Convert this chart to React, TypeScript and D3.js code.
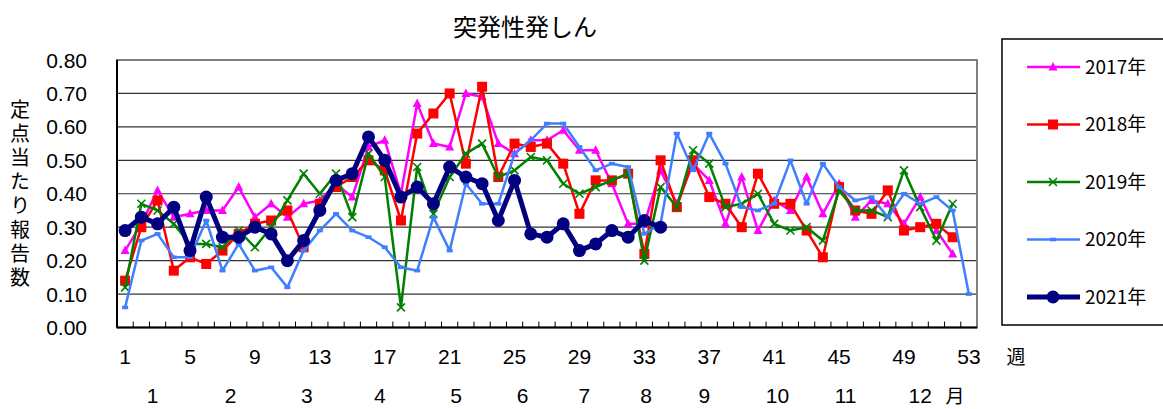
import * as d3 from 'd3';
import { useRef, useEffect } from 'react';

const weeks = d3.range(1, 54);
const weekTicks = [1, 5, 9, 13, 17, 21, 25, 29, 33, 37, 41, 45, 49, 53];
const monthLabels = ['1', '2', '3', '4', '5', '6', '7', '8', '9', '10', '11', '12'];
const monthPos = [2.7, 7.5, 12.2, 16.7, 21.4, 25.5, 29.3, 33.1, 36.7, 41.2, 45.4, 50.0];
const yTicks = [0, 0.1, 0.2, 0.3, 0.4, 0.5, 0.6, 0.7, 0.8];

const v2017 = [0.23, 0.31, 0.41, 0.33, 0.34, 0.35, 0.35, 0.42, 0.33, 0.37, 0.33, 0.37, 0.38, 0.43, 0.39, 0.54, 0.56, 0.40, 0.67, 0.55, 0.54, 0.70, 0.69, 0.55, 0.52, 0.56, 0.56, 0.59, 0.53, 0.53, 0.43, 0.31, 0.31, 0.47, 0.37, 0.49, 0.44, 0.31, 0.45, 0.29, 0.38, 0.35, 0.45, 0.34, 0.43, 0.33, 0.38, 0.37, 0.31, 0.39, 0.29, 0.22];
const v2018 = [0.14, 0.30, 0.38, 0.17, 0.21, 0.19, 0.23, 0.28, 0.31, 0.32, 0.35, 0.24, 0.37, 0.42, 0.45, 0.50, 0.47, 0.32, 0.58, 0.64, 0.70, 0.49, 0.72, 0.45, 0.55, 0.54, 0.55, 0.49, 0.34, 0.44, 0.44, 0.46, 0.22, 0.50, 0.36, 0.50, 0.39, 0.37, 0.30, 0.46, 0.37, 0.37, 0.29, 0.21, 0.42, 0.35, 0.34, 0.41, 0.29, 0.30, 0.31, 0.27];
const v2019 = [0.12, 0.37, 0.35, 0.31, 0.25, 0.25, 0.24, 0.29, 0.24, 0.30, 0.38, 0.46, 0.40, 0.46, 0.33, 0.52, 0.45, 0.06, 0.48, 0.34, 0.45, 0.52, 0.55, 0.45, 0.47, 0.51, 0.50, 0.43, 0.40, 0.42, 0.44, 0.46, 0.20, 0.42, 0.36, 0.53, 0.49, 0.36, 0.37, 0.40, 0.31, 0.29, 0.30, 0.26, 0.41, 0.35, 0.35, 0.33, 0.47, 0.36, 0.26, 0.37];
const v2020 = [0.06, 0.26, 0.28, 0.21, 0.21, 0.32, 0.17, 0.25, 0.17, 0.18, 0.12, 0.23, 0.29, 0.34, 0.29, 0.27, 0.24, 0.18, 0.17, 0.33, 0.23, 0.43, 0.37, 0.37, 0.52, 0.56, 0.61, 0.61, 0.54, 0.47, 0.49, 0.48, 0.28, 0.31, 0.58, 0.47, 0.58, 0.49, 0.36, 0.35, 0.37, 0.50, 0.37, 0.49, 0.42, 0.38, 0.39, 0.33, 0.40, 0.37, 0.39, 0.35, 0.10];
const v2021 = [0.29, 0.33, 0.31, 0.36, 0.23, 0.39, 0.27, 0.27, 0.30, 0.28, 0.20, 0.26, 0.35, 0.44, 0.46, 0.57, 0.50, 0.39, 0.42, 0.37, 0.48, 0.45, 0.43, 0.32, 0.44, 0.28, 0.27, 0.31, 0.23, 0.25, 0.29, 0.27, 0.32, 0.30];

const seriesNames = ['2017年', '2018年', '2019年', '2020年', '2021年'];
const seriesValues = [v2017, v2018, v2019, v2020, v2021];
const seriesColors = ['#FF00FF', '#FF0000', '#008000', '#3F7FFF', '#000080'];
const seriesMarkers = ['triangle', 'square', 'cross', 'dash', 'circle'];

const jp = '"Noto Sans CJK JP", sans-serif';
const num = '"Liberation Sans", Arial, sans-serif';
const narrow = '"Liberation Sans Narrow", "Liberation Sans", sans-serif';

function drawMarker(g: any, kind: string, cx: number, cy: number, color: string) {
  if (kind === 'triangle') {
    g.append('path').attr('d', `M${cx},${cy - 5}L${cx + 4.5},${cy + 3.5}L${cx - 4.5},${cy + 3.5}Z`).attr('fill', color);
  } else if (kind === 'square') {
    g.append('rect').attr('x', cx - 5).attr('y', cy - 5).attr('width', 10).attr('height', 10).attr('fill', color);
  } else if (kind === 'cross') {
    g.append('path').attr('d', `M${cx - 4},${cy - 4}L${cx + 4},${cy + 4}M${cx - 4},${cy + 4}L${cx + 4},${cy - 4}`)
      .attr('stroke', color).attr('stroke-width', 1.6).attr('fill', 'none');
  } else if (kind === 'dash') {
    g.append('rect').attr('x', cx - 3).attr('y', cy - 1.8).attr('width', 6).attr('height', 3.6).attr('fill', color);
  } else {
    g.append('circle').attr('cx', cx).attr('cy', cy).attr('r', 6.5).attr('fill', color);
  }
}

export default function App() {
  const svgRef = useRef<SVGSVGElement>(null);

  useEffect(() => {
    if (!svgRef.current) return;
    const svg = d3.select(svgRef.current);
    svg.selectAll('*').remove();

    const left = 117, right = 977, top = 60, bottom = 327.5;
    const x = d3.scaleLinear().domain([0.5, 53.5]).range([left, right]);
    const y = d3.scaleLinear().domain([0, 0.8]).range([bottom, top]);

    // title
    svg.append('text').attr('x', 525).attr('y', 36).attr('text-anchor', 'middle')
      .attr('font-family', jp).attr('font-size', 24).attr('fill', '#000').text('突発性発しん');

    // gridlines
    yTicks.forEach((t) => {
      svg.append('line').attr('x1', left).attr('x2', right).attr('y1', y(t)).attr('y2', y(t))
        .attr('stroke', '#333').attr('stroke-width', 1.2);
    });

    // frame
    svg.append('rect').attr('x', left).attr('y', top).attr('width', right - left).attr('height', bottom - top)
      .attr('fill', 'none').attr('stroke', '#808080').attr('stroke-width', 2);
    svg.append('line').attr('x1', left).attr('x2', left).attr('y1', top).attr('y2', bottom)
      .attr('stroke', '#000').attr('stroke-width', 2);
    svg.append('line').attr('x1', left).attr('x2', right).attr('y1', bottom).attr('y2', bottom)
      .attr('stroke', '#000').attr('stroke-width', 2);

    // bottom ticks between categories
    d3.range(1, 53).forEach((i) => {
      svg.append('line').attr('x1', x(i + 0.5)).attr('x2', x(i + 0.5)).attr('y1', bottom).attr('y2', bottom - 6)
        .attr('stroke', '#000').attr('stroke-width', 1);
    });

    // y labels
    yTicks.forEach((t) => {
      svg.append('text').attr('x', 87).attr('y', y(t)).attr('dy', '0.36em').attr('text-anchor', 'end')
        .attr('font-family', num).attr('font-size', 21).attr('fill', '#000').text(t.toFixed(2));
    });

    // y title (vertical)
    svg.append('text').attr('x', 20).attr('y', 99)
      .attr('font-family', jp).attr('font-size', 20).attr('fill', '#000')
      .style('writing-mode', 'vertical-rl').style('letter-spacing', '4px')
      .text('定点当たり報告数');

    // week labels
    weekTicks.forEach((w) => {
      svg.append('text').attr('x', x(w)).attr('y', 364).attr('text-anchor', 'middle')
        .attr('font-family', narrow).attr('font-size', 21).attr('fill', '#000').text(String(w));
    });
    svg.append('text').attr('x', 1016).attr('y', 364).attr('text-anchor', 'middle')
      .attr('font-family', jp).attr('font-size', 19).attr('fill', '#000').text('週');

    // month labels
    monthLabels.forEach((m, i) => {
      svg.append('text').attr('x', x(monthPos[i])).attr('y', 403).attr('text-anchor', 'middle')
        .attr('font-family', narrow).attr('font-size', 21).attr('fill', '#000').text(m);
    });
    svg.append('text').attr('x', 955).attr('y', 403).attr('text-anchor', 'middle')
      .attr('font-family', jp).attr('font-size', 19).attr('fill', '#000').text('月');

    // series
    seriesValues.forEach((vals, si) => {
      const color = seriesColors[si];
      const isBold = si === 4;
      const data = vals.map((v, i) => ({ w: weeks[i], v }));
      const line = d3.line<{ w: number; v: number }>().x((d) => x(d.w)).y((d) => y(d.v));
      const g = svg.append('g');
      g.append('path').attr('d', line(data) as string).attr('fill', 'none').attr('stroke', color)
        .attr('stroke-width', isBold ? 5 : 2.5).attr('stroke-linejoin', 'round');
      data.forEach((d) => drawMarker(g, seriesMarkers[si], x(d.w), y(d.v), color));
    });

    // legend
    svg.append('rect').attr('x', 1002).attr('y', 39).attr('width', 200).attr('height', 286)
      .attr('fill', '#fff').attr('stroke', '#000').attr('stroke-width', 1.5);
    const legendY = d3.scalePoint<string>().domain(seriesNames).range([67, 297]);
    seriesNames.forEach((name, si) => {
      const ly = legendY(name) as number;
      const g = svg.append('g');
      g.append('line').attr('x1', 1027).attr('x2', 1080).attr('y1', ly).attr('y2', ly)
        .attr('stroke', seriesColors[si]).attr('stroke-width', si === 4 ? 5 : 2.5);
      drawMarker(g, seriesMarkers[si], 1053, ly, seriesColors[si]);
      g.append('text').attr('x', 1085).attr('y', ly).attr('dy', '0.36em')
        .attr('font-family', jp).attr('font-size', 19).attr('fill', '#000').text(name);
    });
  }, []);

  return (
    <svg ref={svgRef} width={1163} height={409}
      style={{ position: 'absolute', left: 0, top: 0, background: '#fff' }} />
  );
}
